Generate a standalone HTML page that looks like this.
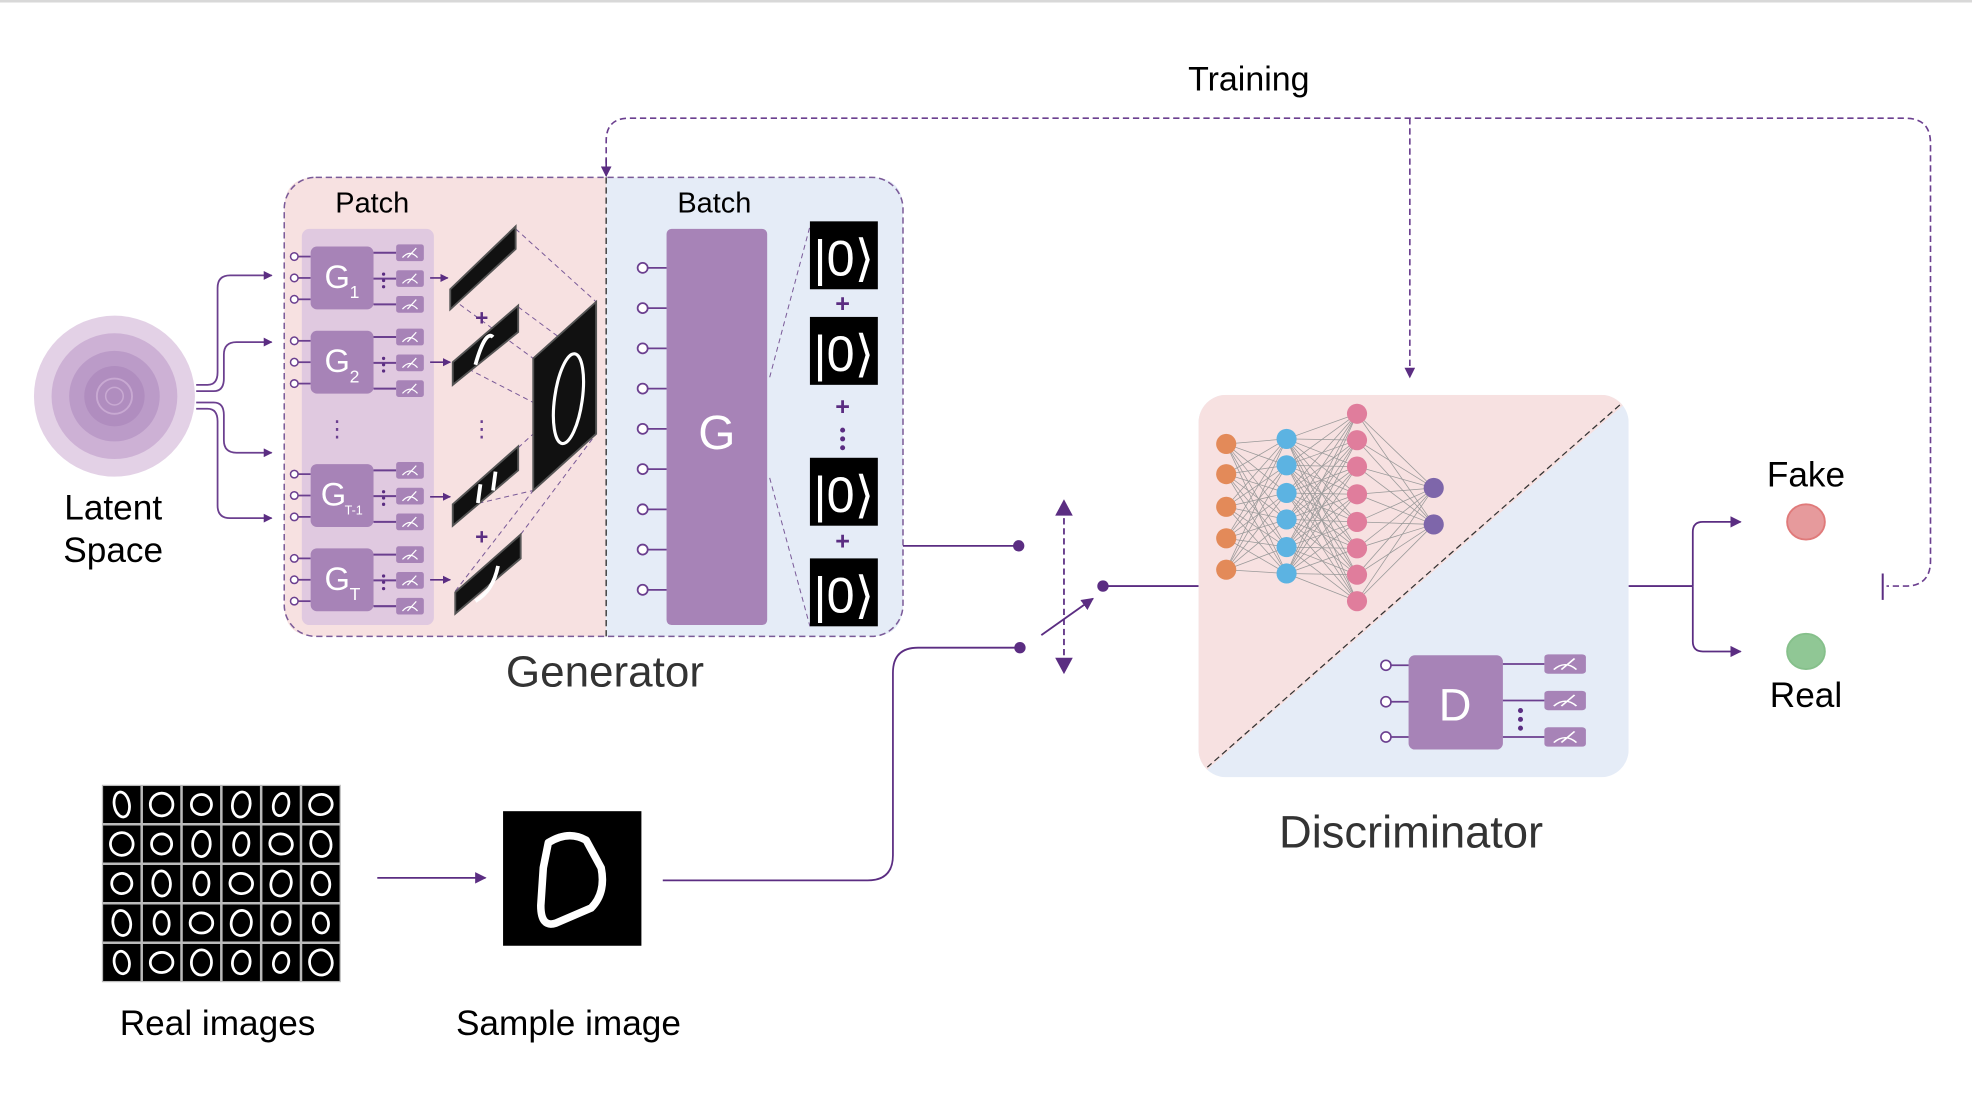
<!DOCTYPE html>
<html><head><meta charset="utf-8"><style>
html,body{margin:0;padding:0;background:#fff;}
svg{display:block;}
text{font-family:"Liberation Sans","DejaVu Sans",sans-serif;}
</style></head><body>
<svg width="1972" height="1110" viewBox="0 0 1568 882.6" preserveAspectRatio="none" xmlns="http://www.w3.org/2000/svg">
<defs>
<marker id="ah" viewBox="0 0 10 10" refX="9" refY="5" markerWidth="6.5" markerHeight="6.5" orient="auto"><path d="M0,0L10,5L0,10z" fill="#5b2d82"/></marker>
<marker id="ahs" viewBox="0 0 10 10" refX="9" refY="5" markerWidth="5" markerHeight="5" orient="auto"><path d="M0,0L10,5L0,10z" fill="#5b2d82"/></marker>
<g id="meter"><rect x="0" y="-7" width="22" height="14" rx="2" fill="#a783b7"/><path d="M5,4 Q11,-3 17,4 M9,4 L16,-4" stroke="#fff" stroke-width="1" fill="none"/></g>
<g id="ket"><rect x="0" y="0" width="54" height="54" fill="#000"/><text x="27" y="43" font-size="40" fill="#fff" text-anchor="middle" font-family="DejaVu Sans, sans-serif">|0⟩</text></g>
</defs>
<rect x="0" y="0" width="1568" height="2" fill="#d8d8d8"/>

<!-- Training loop -->
<text x="993" y="72" font-size="27" text-anchor="middle">Training</text>
<path d="M482,130 L482,112 Q482,94 500,94 L1515,94 Q1535,94 1535,114 L1535,446 Q1535,466 1515,466 L1500,466" fill="none" stroke="#6b3f8f" stroke-width="1.3" stroke-dasharray="5,3"/>
<path d="M482,126 L482,140" stroke="#5b2d82" stroke-width="1.3" marker-end="url(#ah)"/>
<line x1="1497" y1="456" x2="1497" y2="477" stroke="#5b2d82" stroke-width="1.6"/>
<path d="M1121,94 L1121,300" fill="none" stroke="#6b3f8f" stroke-width="1.3" stroke-dasharray="5,3" marker-end="url(#ah)"/>

<!-- Generator box -->
<path d="M251,141 L482,141 L482,506 L251,506 Q226,506 226,481 L226,166 Q226,141 251,141z" fill="#f7e1e1"/>
<path d="M482,141 L693,141 Q718,141 718,166 L718,481 Q718,506 693,506 L482,506z" fill="#e5ecf7"/>
<rect x="226" y="141" width="492" height="365" rx="25" fill="none" stroke="#7a5a98" stroke-width="1.2" stroke-dasharray="5,3"/>
<line x1="482" y1="141" x2="482" y2="506" stroke="#444" stroke-width="1.2" stroke-dasharray="5,3"/>
<text x="296" y="169" font-size="23" text-anchor="middle">Patch</text>
<text x="568" y="169" font-size="23" text-anchor="middle">Batch</text>
<rect x="240" y="182" width="105" height="315" rx="6" fill="#e0c9e0"/>

<g id="gblocks"></g>
<g font-weight="normal" fill="#fff">
<text x="258" y="229" font-size="26">G</text><text x="278" y="237" font-size="14">1</text>
<text x="258" y="296" font-size="26">G</text><text x="278" y="304" font-size="14">2</text>
<text x="255" y="402" font-size="26">G</text><text x="274" y="409" font-size="10">T-1</text>
<text x="258" y="469" font-size="26">G</text><text x="278" y="477" font-size="14">T</text>
</g>
<text x="268" y="347" font-size="18" text-anchor="middle" fill="#6b3f8f">⋮</text>
<text x="383" y="347" font-size="18" text-anchor="middle" fill="#6b3f8f">⋮</text>

<!-- slices -->
<g stroke="#7a5a98" stroke-width="0.8" stroke-dasharray="4,3" fill="none">
<line x1="410" y1="182" x2="474" y2="240"/><line x1="360" y1="238" x2="424" y2="285"/>
<line x1="412" y1="244" x2="474" y2="290"/><line x1="360" y1="287" x2="424" y2="320"/>
<line x1="412" y1="356" x2="424" y2="345"/><line x1="360" y1="405" x2="424" y2="390"/>
<line x1="414" y1="425" x2="474" y2="345"/><line x1="362" y1="470" x2="424" y2="390"/>
</g>
<g fill="#111" stroke="#555" stroke-width="1.5">
<polygon points="358,230 410,180 410,198 358,246"/>
<polygon points="360,288 412,243 412,264 360,306"/>
<polygon points="360,401 412,355 412,374 360,418"/>
<polygon points="362,471 414,425 414,444 362,488"/>
<polygon points="424,285 474,240 474,345 424,390"/>
</g>
<ellipse cx="452" cy="317" rx="11" ry="36" fill="none" stroke="#fff" stroke-width="2.5" transform="rotate(8 452 317)"/>
<path d="M378,290 Q386,262 392,268" stroke="#fff" stroke-width="3" fill="none"/>
<path d="M380,400 L382,385 M392,390 L394,375" stroke="#fff" stroke-width="3" fill="none"/>
<path d="M378,478 Q392,470 396,450" stroke="#fff" stroke-width="3" fill="none"/>
<text x="383" y="259" font-size="18" text-anchor="middle" font-weight="bold" fill="#5b2d82">+</text>
<text x="383" y="433" font-size="18" text-anchor="middle" font-weight="bold" fill="#5b2d82">+</text>
<g stroke="#5b2d82" stroke-width="1.3">
<line x1="342" y1="221" x2="356" y2="221" marker-end="url(#ahs)"/>
<line x1="342" y1="288" x2="358" y2="288" marker-end="url(#ahs)"/>
<line x1="342" y1="395" x2="358" y2="395" marker-end="url(#ahs)"/>
<line x1="342" y1="461" x2="358" y2="461" marker-end="url(#ahs)"/>
</g>

<!-- Latent space -->
<circle cx="91" cy="315" r="64" fill="#e3d1e6"/>
<circle cx="91" cy="315" r="50" fill="#cdb1d5"/>
<circle cx="91" cy="315" r="36" fill="#bb9bc8"/>
<circle cx="91" cy="315" r="24" fill="#b08dbf"/>
<circle cx="91" cy="315" r="14" fill="none" stroke="#c8a9d2" stroke-width="1.5"/>
<circle cx="91" cy="315" r="7" fill="none" stroke="#c8a9d2" stroke-width="1.2"/>
<text x="90" y="413" font-size="28" text-anchor="middle">Latent</text>
<text x="90" y="447" font-size="28" text-anchor="middle">Space</text>
<g fill="none" stroke="#6b3f8f" stroke-width="1.4">
<path d="M156,306 L165,306 Q173,306 173,296 L173,229 Q173,219 183,219 L216,219" marker-end="url(#ahs)"/>
<path d="M156,311 L170,311 Q178,311 178,301 L178,282 Q178,272 188,272 L216,272" marker-end="url(#ahs)"/>
<path d="M156,320 L170,320 Q178,320 178,330 L178,350 Q178,360 188,360 L216,360" marker-end="url(#ahs)"/>
<path d="M156,325 L165,325 Q173,325 173,335 L173,402 Q173,412 183,412 L216,412" marker-end="url(#ahs)"/>
</g>

<!-- Batch G -->
<rect x="530" y="182" width="80" height="315" rx="4" fill="#a783b7"/>
<text x="570" y="357" font-size="38" text-anchor="middle" fill="#fff">G</text>
<g id="bin" stroke="#6b3f8f" stroke-width="1.4" fill="#fff"></g>
<g stroke="#7a5a98" stroke-width="0.8" stroke-dasharray="4,3">
<line x1="612" y1="300" x2="644" y2="180"/><line x1="612" y1="380" x2="644" y2="498"/>
</g>
<use href="#ket" x="644" y="176"/>
<use href="#ket" x="644" y="252"/>
<use href="#ket" x="644" y="364"/>
<use href="#ket" x="644" y="444"/>
<g fill="#5b2d82" font-weight="bold" font-size="20" text-anchor="middle">
<text x="670" y="248">+</text><text x="670" y="330">+</text><text x="670" y="437">+</text>
</g>
<circle cx="670" cy="342" r="2" fill="#5b2d82"/><circle cx="670" cy="349" r="2" fill="#5b2d82"/><circle cx="670" cy="356" r="2" fill="#5b2d82"/>
<text x="481" y="546" font-size="35" text-anchor="middle" fill="#333">Generator</text>

<!-- switch -->
<g stroke="#5b2d82" stroke-width="1.4" fill="none">
<line x1="718" y1="434" x2="810" y2="434"/>
<path d="M527,700 L690,700 Q710,700 710,680 L710,535 Q710,515 730,515 L810,515"/>
<line x1="877" y1="466" x2="953" y2="466"/>
<line x1="828" y1="505" x2="869" y2="476" stroke-width="1.5" marker-end="url(#ah)"/>
<line x1="846" y1="404" x2="846" y2="530" stroke-dasharray="5,3"/>
<line x1="300" y1="698" x2="386" y2="698" marker-end="url(#ah)"/>
</g>
<path d="M846,397 L839,410 L853,410z M846,536 L839,523 L853,523z" fill="#5b2d82"/>
<circle cx="810" cy="434" r="4.5" fill="#5b2d82"/>
<circle cx="811" cy="515" r="4.5" fill="#5b2d82"/>
<circle cx="877" cy="466" r="4.5" fill="#5b2d82"/>

<!-- Discriminator -->
<clipPath id="dc"><rect x="953" y="314" width="342" height="304" rx="22"/></clipPath>
<g clip-path="url(#dc)">
<rect x="953" y="314" width="342" height="304" fill="#e5ecf7"/>
<polygon points="953,314 1300,314 953,618" fill="#f7e1e1"/>
</g>
<line x1="1288" y1="322" x2="960" y2="610" stroke="#333" stroke-width="1" stroke-dasharray="5,3"/>
<g id="nn" stroke="#999" stroke-width="0.6"></g>
<g id="nodes"></g>
<rect x="1120" y="521" width="75" height="75" rx="5" fill="#a783b7"/>
<text x="1157" y="573" font-size="36" text-anchor="middle" fill="#fff">D</text>
<g stroke="#6b3f8f" stroke-width="1.4">
<line x1="1106" y1="529" x2="1120" y2="529"/><line x1="1106" y1="558" x2="1120" y2="558"/><line x1="1106" y1="586" x2="1120" y2="586"/>
<line x1="1195" y1="528" x2="1228" y2="528"/><line x1="1195" y1="557" x2="1228" y2="557"/><line x1="1195" y1="586" x2="1228" y2="586"/>
</g>
<g fill="#fff" stroke="#6b3f8f" stroke-width="1.3">
<circle cx="1102" cy="529" r="4"/><circle cx="1102" cy="558" r="4"/><circle cx="1102" cy="586" r="4"/>
</g>
<use href="#meter" transform="translate(1228,528) scale(1.5,1.1)"/>
<use href="#meter" transform="translate(1228,557) scale(1.5,1.1)"/>
<use href="#meter" transform="translate(1228,586) scale(1.5,1.1)"/>
<circle cx="1209" cy="565" r="2" fill="#5b2d82"/><circle cx="1209" cy="572" r="2" fill="#5b2d82"/><circle cx="1209" cy="579" r="2" fill="#5b2d82"/>
<text x="1122" y="674" font-size="36" text-anchor="middle" fill="#333">Discriminator</text>

<!-- outputs -->
<g stroke="#5b2d82" stroke-width="1.4" fill="none">
<path d="M1295,466 L1346,466"/>
<path d="M1346,466 L1346,423 Q1346,415 1354,415 L1384,415" marker-end="url(#ah)"/>
<path d="M1346,466 L1346,510 Q1346,518 1354,518 L1384,518" marker-end="url(#ah)"/>
</g>
<ellipse cx="1436" cy="415" rx="15" ry="14" fill="#e69a9c" stroke="#e07a7a" stroke-width="1.5"/>
<ellipse cx="1436" cy="518" rx="15" ry="14" fill="#90c795" stroke="#86c08b" stroke-width="1.5"/>
<text x="1436" y="387" font-size="28" text-anchor="middle">Fake</text>
<text x="1436" y="562" font-size="28" text-anchor="middle">Real</text>

<!-- real images -->
<rect x="81" y="624" width="190" height="157" fill="#bbb"/>
<g id="grid"></g>
<rect x="400" y="645" width="110" height="107" fill="#000"/>
<path d="M436,670 Q452,660 466,668 L478,690 Q482,710 470,722 L442,734 Q430,738 430,720 L432,690z" fill="none" stroke="#fff" stroke-width="6" stroke-linejoin="round"/>
<text x="173" y="823" font-size="28" text-anchor="middle">Real images</text>
<text x="452" y="823" font-size="28" text-anchor="middle">Sample image</text>

<script>
(function(){
var NS="http://www.w3.org/2000/svg";
function el(p,t,a){var e=document.createElementNS(NS,t);for(var k in a)e.setAttribute(k,a[k]);p.appendChild(e);return e;}
var gb=document.getElementById("gblocks");
[196,263,369,436].forEach(function(y){
 [8,25,42].forEach(function(d,i){
  el(gb,"line",{x1:237,y1:y+d,x2:247,y2:y+d,stroke:"#6b3f8f","stroke-width":1.4});
  el(gb,"circle",{cx:234,cy:y+d,r:3,fill:"#fff",stroke:"#6b3f8f","stroke-width":1.2});
  var my=y+5+i*20.5;
  el(gb,"line",{x1:297,y1:my,x2:315,y2:my,stroke:"#6b3f8f","stroke-width":1.6});
  el(gb,"use",{href:"#meter",transform:"translate(315,"+my+") scale(1,0.95)"});
 });
 el(gb,"rect",{x:247,y:y,width:50,height:50,rx:5,fill:"#a783b7"});
 [0,5,10].forEach(function(o){el(gb,"circle",{cx:305,cy:y+22+o,r:1.3,fill:"#5b2d82"});});
});
var bi=document.getElementById("bin");
for(var i=0;i<9;i++){var y=213+i*32;
 el(bi,"line",{x1:515,y1:y,x2:530,y2:y});
 el(bi,"circle",{cx:511,cy:y,r:4});}
var L=[{x:975,c:"#e38a59",ys:[353,377,403,428,453]},{x:1023,c:"#5cb3e2",ys:[349,370,392,413,435,456]},{x:1079,c:"#e07d9c",ys:[329,350,371,393,415,436,457,478]},{x:1140,c:"#7e66aa",ys:[388,417]}];
var nn=document.getElementById("nn"),nd=document.getElementById("nodes");
for(var l=0;l<3;l++)L[l].ys.forEach(function(a){L[l+1].ys.forEach(function(b){el(nn,"line",{x1:L[l].x,y1:a,x2:L[l+1].x,y2:b});});});
L.forEach(function(ly){ly.ys.forEach(function(y){el(nd,"circle",{cx:ly.x,cy:y,r:8,fill:ly.c});});});
var g=document.getElementById("grid");
var cw=190/6,ch=157/5;
for(var r=0;r<5;r++)for(var c=0;c<6;c++){
 var x=81+c*cw,y=624+r*ch;
 el(g,"rect",{x:x+1,y:y+1,width:cw-2,height:ch-2,fill:"#000"});
 var rx=6+((r*7+c*3)%4),ry=10-((r+c)%3);
 el(g,"ellipse",{cx:x+cw/2,cy:y+ch/2,rx:rx,ry:ry,fill:"none",stroke:"#fff","stroke-width":2.2,transform:"rotate("+(((r*5+c*11)%5)*6-10)+" "+(x+cw/2)+" "+(y+ch/2)+")"});
}
})();
</script>
</svg>
</body></html>
